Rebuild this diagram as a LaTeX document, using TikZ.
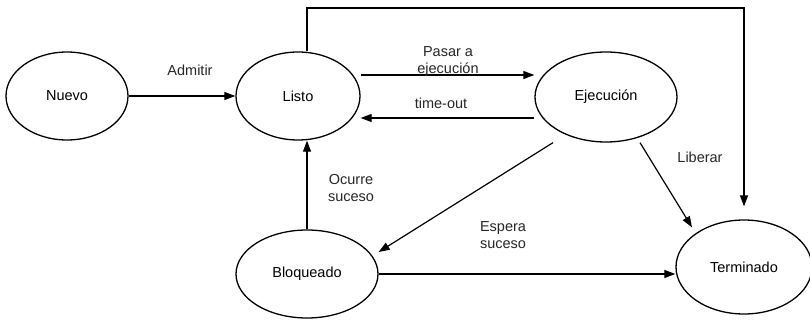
\documentclass[tikz,border=0pt]{standalone}
\usepackage{fontspec}
\setmainfont{Liberation Sans}
\usetikzlibrary{shapes.geometric,arrows.meta,calc}

\begin{document}
\begin{tikzpicture}[
  x=1pt, y=-1pt,
  font=\fontsize{14.5}{17}\selectfont,
  state/.style={ellipse, draw, line width=1.3pt, inner sep=0pt},
  trans/.style={line width=1.2pt, -{Triangle[length=11pt,width=8pt]}},
  lbl/.style={inner sep=0pt, align=center, text=black!85}
]
\useasboundingbox (0,0) rectangle (810,320);

% process states
\node[state, minimum width=122pt, minimum height=88pt] (nuevo) at (67,96) {Nuevo};
\node[state, minimum width=124pt, minimum height=88pt] (listo) at (298,96) {Listo};
\node[state, minimum width=142pt, minimum height=90pt] (ejec) at (606,97) {Ejecución};
\node[state, minimum width=142pt, minimum height=88pt] (bloq) at (307,274) {Bloqueado};
\node[state, minimum width=136pt, minimum height=94pt] (term) at (744,267) {Terminado};

% corner of the path from Listo to Terminado
\coordinate (topleft) at (307,8);
\coordinate (topright) at (744,8);

% transitions
\draw[trans] (nuevo.east) -- (listo.west);
\draw[trans] ([yshift=21pt]listo.east) -- ([yshift=22pt]ejec.west);
\draw[trans] ([yshift=-21pt]ejec.west) -- ([yshift=-22pt]listo.east);
\draw[trans] (bloq.north) -- (bloq.north |- listo.south);
\draw[trans] ([xshift=-53pt]ejec.south) -- ([yshift=22pt]bloq.east);
\draw[trans] ([xshift=34pt]ejec.south) -- ($(term.north)+(-52,8)$);
\draw[trans] (bloq.east) -- (bloq.east -| term.west);
\draw[trans] (listo.north -| topleft) -- (topleft) -- (topright) -- ([yshift=13pt]term.north);

% transition labels
\node[lbl] (admitir) at (190,70) {Admitir};
\node[lbl] (pasar) at (448,62) {Pasar a\\ejecución};
\node[lbl] (timeout) at (441,103) {time-out};
\node[lbl] (ocurre) at (351,188) {Ocurre\\suceso};
\node[lbl] (liberar) at (700,157) {Liberar};
\node[lbl] (espera) at (503,235) {Espera\\suceso};
\end{tikzpicture}
\end{document}
